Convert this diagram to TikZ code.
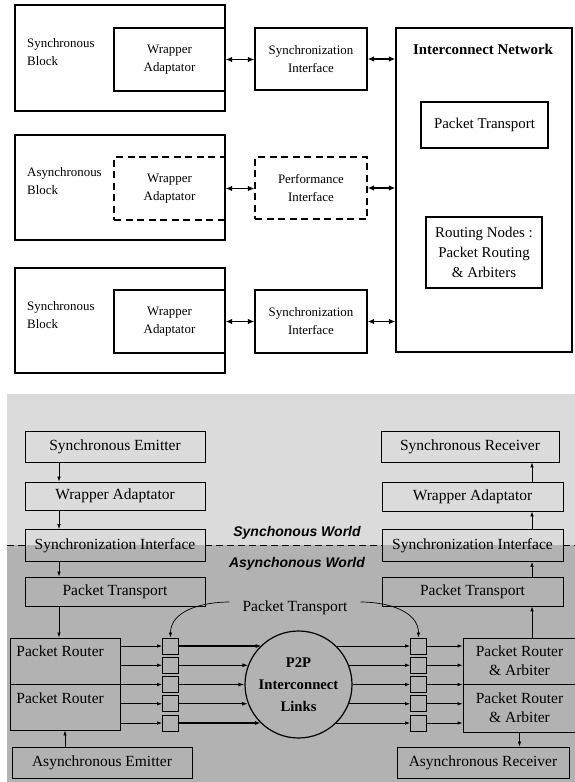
\documentclass[tikz,border=0pt]{standalone}
\usepackage{fontspec}
\setmainfont{Liberation Serif}
\setsansfont{Liberation Sans}
\usetikzlibrary{arrows.meta,positioning,shapes.geometric}

\begin{document}
\begin{tikzpicture}[x=1pt,y=-1pt,>={Latex[length=6.5pt,width=5.5pt]},
		box/.style={draw,line width=1.3pt,inner sep=0pt,align=center,font=\fontsize{12.9}{18}\selectfont},
		dbox/.style={box,dash pattern=on 7pt off 4.5pt},
		txt/.style={align=left,inner sep=0pt,font=\fontsize{12.9}{18}\selectfont},
		big/.style={box,font=\fontsize{14.9}{20}\selectfont},
		bbox/.style={draw,line width=0.9pt,inner sep=0pt,align=center,font=\fontsize{15.5}{19}\selectfont},
		sq/.style={draw,line width=0.9pt,minimum size=16pt,inner sep=0pt},
		world/.style={font=\sffamily\bfseries\itshape\fontsize{14}{16}\selectfont},
		node distance=19.25pt,on grid]
			\useasboundingbox (0,0) rectangle (575,782);

			% upper part: blocks around the interconnect network
			\node[box,minimum width=210pt,minimum height=106pt] (sb1) at (120,58) {};
			\node[txt,anchor=west] (sb1t) at (27,52) {Synchronous\\Block};
			\node[box,minimum width=111pt,minimum height=63pt] (wa1) at (169.5,59.5) {Wrapper\\Adaptator};
			\node[box,minimum width=112pt,minimum height=62pt] (si1) at (311,59) {Synchronization\\Interface};

			\node[box,minimum width=210pt,minimum height=105pt] (ab) at (120,187.5) {};
			\node[txt,anchor=west] (abt) at (27,181.5) {Asynchronous\\Block};
			\node[dbox,minimum width=111pt,minimum height=63pt] (wa2) at (169.5,188.5) {Wrapper\\Adaptator};
			\node[dbox,minimum width=112pt,minimum height=62pt] (pi) at (311,188) {Performance\\Interface};

			\node[box,minimum width=210pt,minimum height=105pt] (sb3) at (120,320.5) {};
			\node[txt,anchor=west] (sb3t) at (27,315) {Synchronous\\Block};
			\node[box,minimum width=111pt,minimum height=63pt] (wa3) at (169.5,321.5) {Wrapper\\Adaptator};
			\node[box,minimum width=112pt,minimum height=63pt] (si3) at (311,321.5) {Synchronization\\Interface};

			\node[box,minimum width=176pt,minimum height=324pt] (net) at (484,190) {};
			\node[font=\bfseries\fontsize{14.9}{18}\selectfont] (nett) at (483,49) {Interconnect Network};
			\node[big,minimum width=127pt,minimum height=46pt] (pt) at (484.5,125) {Packet Transport};
			\node[big,minimum width=116pt,minimum height=71pt] (rn) at (484,252.5) {Routing Nodes :\\Packet Routing\\\& Arbiters};

			\path[<->,line width=1.3pt]
			(wa1.east) edge (wa1.east -| si1.west)
			(si1.east) edge (si1.east -| net.west)
			(wa2.east) edge (wa2.east -| pi.west)
			(pi.east) edge (pi.east -| net.west)
			(wa3.east) edge (wa3.east -| si3.west)
			(si3.east) edge (si3.east -| net.west);

			% lower part: synchronous and asynchronous worlds
			\fill[black!14] (7,394) rectangle (575,545);
			\fill[black!30] (7,545) rectangle (575,782);

			\node[bbox,minimum width=180pt,minimum height=31pt] (se) at (115,446.5) {Synchronous Emitter};
			\node[bbox,minimum width=180pt,minimum height=28pt] (waL) at (115,496) {Wrapper Adaptator};
			\node[bbox,minimum width=180pt,minimum height=32pt] (siL) at (115,545.5) {Synchronization Interface};
			\node[bbox,minimum width=180pt,minimum height=29pt] (ptL) at (115,591.5) {Packet Transport};
			\node[bbox,minimum width=110pt,minimum height=46pt] (prl1) at (65,661) {};
			\node[bbox,minimum width=110pt,minimum height=46pt] (prl2) at (65,707) {};
			\node[bbox,draw=none,anchor=west] (prl1t) at (16,651) {Packet Router};
			\node[bbox,draw=none,anchor=west] (prl2t) at (16,698) {Packet Router};
			\node[bbox,minimum width=180pt,minimum height=31pt] (ae) at (102,762.5) {Asynchronous Emitter};

			\node[bbox,minimum width=178pt,minimum height=31pt] (sr) at (470,446.5) {Synchronous Receiver};
			\node[bbox,minimum width=181pt,minimum height=29pt] (waR) at (472.5,496.5) {Wrapper Adaptator};
			\node[bbox,minimum width=181pt,minimum height=32pt] (siR) at (472.5,545.5) {Synchronization Interface};
			\node[bbox,minimum width=181pt,minimum height=29pt] (ptR) at (472.5,591.5) {Packet Transport};
			\node[bbox,minimum width=113pt,minimum height=46pt] (prr1) at (519.5,661) {Packet Router\\\& Arbiter};
			\node[bbox,minimum width=113pt,minimum height=48pt] (prr2) at (519.5,708) {Packet Router\\\& Arbiter};
			\node[bbox,minimum width=172pt,minimum height=31pt] (ar) at (483,762.5) {Asynchronous Receiver};

			\draw[line width=1.5pt,dash pattern=on 7pt off 4pt] (siL.west) -- ++(-18,0) (siL.east) -- (siR.west) (siR.east) -- ++(12,0);
			\node[world] (sw) at (297,533) {Synchonous World};
			\node[world] (aw) at (297,564) {Asynchonous World};

			\node[circle,draw,line width=1.2pt,minimum size=107pt,inner sep=0pt,align=center,font=\bfseries\fontsize{14.7}{22}\selectfont] (link) at (298.5,684.5) {P2P\\Interconnect\\Links};
			\node[font=\fontsize{15.5}{19}\selectfont,inner xsep=13pt] (ptm) at (295,608) {Packet Transport};

			\node[sq] (l1) at (170.5,646) {};
			\node[sq] (l2) [below=of l1] {};
			\node[sq] (l3) [below=of l2] {};
			\node[sq] (l4) [below=of l3] {};
			\node[sq] (l5) [below=of l4] {};
			\node[sq] (r1) at (418.5,646) {};
			\node[sq] (r2) [below=of r1] {};
			\node[sq] (r3) [below=of r2] {};
			\node[sq] (r4) [below=of r3] {};
			\node[sq] (r5) [below=of r4] {};

			\coordinate (lcol) at (59,0);
			\coordinate (rcol) at (532,0);

			\path[->,>={Latex[length=5pt,width=3.5pt]},line width=0.7pt]
			(se.south -| lcol) edge (waL.north -| lcol)
			(waL.south -| lcol) edge (siL.north -| lcol)
			(siL.south -| lcol) edge (ptL.north -| lcol)
			(ptL.south -| lcol) edge (prl1.north -| lcol)
			(prl2.south |- ae.north) edge (prl2.south)
			(prr1.north -| rcol) edge (ptR.south -| rcol)
			(ptR.north -| rcol) edge (siR.south -| rcol)
			(siR.north -| rcol) edge (waR.south -| rcol)
			(waR.north -| rcol) edge (sr.south -| rcol)
			(prr2.south) edge (prr2.south |- ar.north)
			(l1 -| prl1.east) edge (l1)
			(l2 -| prl1.east) edge (l2)
			(l3 -| prl1.east) edge (l3)
			(l4 -| prl1.east) edge (l4)
			(l5 -| prl1.east) edge (l5)
			(r1 -| link.46.6) edge (r1)
			(r2 -| link.21.3) edge (r2)
			(r3 -| link.0) edge (r3)
			(r4 -| link.-21.3) edge (r4)
			(r5 -| link.-46.6) edge (r5)
			(r1) edge (r1 -| prr1.west)
			(r2) edge (r2 -| prr1.west)
			(r3) edge (r3 -| prr1.west)
			(r4) edge (r4 -| prr1.west)
			(r5) edge (r5 -| prr1.west)
			([yshift=6pt]ptm.west) edge[out=180,in=90] (l1)
			([yshift=6pt]ptm.east) edge[out=0,in=90] (r1);

			\path[->,>={Latex[length=6pt,width=4pt]},line width=1.3pt]
			(l1) edge (l1 -| link.133.4)
			(l2) edge (l2 -| link.158.7)
			(l3) edge (l3 -| link.180)
			(l4) edge (l4 -| link.201.3)
			(l5) edge (l5 -| link.226.6);
		\end{tikzpicture}
\end{document}
